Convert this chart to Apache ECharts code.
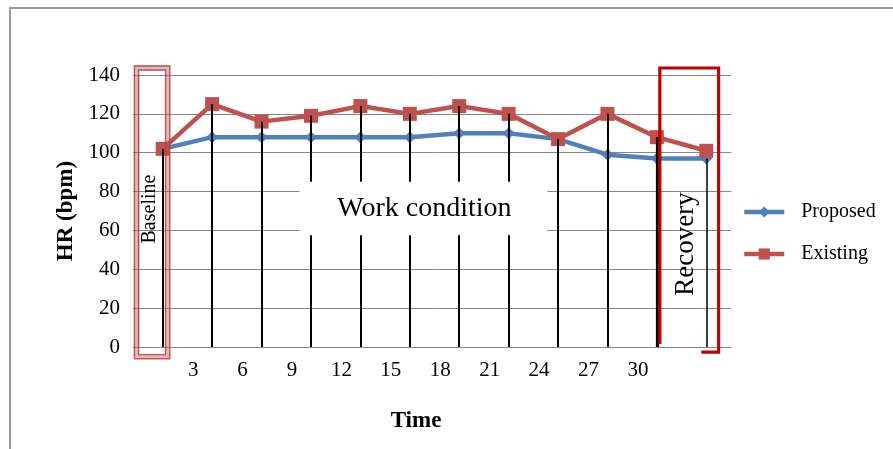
<!DOCTYPE html>
<html><head><meta charset="utf-8">
<script src="https://cdn.jsdelivr.net/npm/echarts@6/dist/echarts.min.js"></script>
<style>html,body{margin:0;padding:0;background:#fff}#c{width:893px;height:449px}</style>
</head><body><div id="c"></div>
<script>
// ---- data ----
const categories = ['Baseline','3','6','9','12','15','18','21','24','27','30','Recovery'];
const proposed = [102,108,108,108,108,108,110,110,107,99,97,97];
const existing = [102,125,116,119,124,120,124,120,107,120,108,101];
const yMin = 0, yMax = 140, yStep = 20;
const seriesNames = ['Proposed','Existing'];

const FONT = '"Liberation Serif", "DejaVu Serif", serif';
const BLUE = '#4f81bd', RED = '#c0504d', GRID = '#878787';

const chart = echarts.init(document.getElementById('c'), null, {renderer:'canvas'});

// vertical guide lines from each reading down to the axis
const guideData = categories.map((c, i) => {
  const top = i === categories.length - 1 ? proposed[i] : existing[i];
  const w = i === 10 ? 3.2 : (i === 11 ? 1.5 : 2);
  return [{coord:[i, top], lineStyle:{color:'#000', width:w, type:'solid'}}, {coord:[i, 0]}];
});

chart.setOption({
  animation:false,
  backgroundColor:'#fff',
  grid:{left:138, right:162, top:75, bottom:102},
  legend:{
    data:seriesNames, orient:'vertical', left:742, top:202, padding:0,
    itemWidth:40, itemHeight:14, itemGap:22,
    lineStyle:{width:4.5},
    textStyle:{fontFamily:FONT, fontSize:20, color:'#000', padding:[0,0,0,12]}
  },
  xAxis:{
    type:'category', data:categories, boundaryGap:true,
    name:'Time', nameLocation:'middle', nameGap:63,
    nameTextStyle:{fontFamily:FONT, fontSize:23, fontWeight:'bold', color:'#000', padding:[0,37,0,0]},
    axisLine:{show:true, lineStyle:{color:GRID, width:1}},
    axisTick:{show:false},
    axisLabel:{
      interval:0, margin:13, fontFamily:FONT, fontSize:21, color:'#000',
      padding:[0,38,0,0],
      formatter:(v, i) => (i === 0 || i === categories.length - 1) ? '' : v
    },
    splitLine:{show:false}
  },
  yAxis:{
    type:'value', min:yMin, max:yMax, interval:yStep,
    name:'HR (bpm)', nameLocation:'middle', nameGap:60, nameRotate:90,
    nameTextStyle:{fontFamily:FONT, fontSize:23, fontWeight:'bold', color:'#000'},
    axisLine:{show:true, lineStyle:{color:GRID, width:1}},
    axisTick:{show:true, length:5, lineStyle:{color:GRID}},
    axisLabel:{margin:18, fontFamily:FONT, fontSize:21, color:'#000'},
    splitLine:{show:true, lineStyle:{color:GRID, width:1}}
  },
  series:[
    {
      name:'guides', type:'line', data:[], z:1, silent:true,
      markLine:{silent:true, symbol:['none','none'], label:{show:false}, animation:false, data:guideData}
    },
    {
      name:'Proposed', type:'line', data:proposed, z:3,
      symbol:'diamond', symbolSize:12,
      lineStyle:{color:BLUE, width:4.5}, itemStyle:{color:BLUE}
    },
    {
      name:'Existing', type:'line', data:existing, z:4,
      symbol:'rect', symbolSize:14,
      lineStyle:{color:RED, width:4.5}, itemStyle:{color:RED}
    }
  ]
});

// ---- annotation boxes positioned through the axes ----
const p0 = chart.convertToPixel({xAxisIndex:0, yAxisIndex:0}, [0, 0]);
const p1 = chart.convertToPixel({xAxisIndex:0, yAxisIndex:0}, [1, 100]);
const px = i => p0[0] + (p1[0] - p0[0]) * i;
const py = v => p0[1] + (p1[1] - p0[1]) * v / 100;

const wcL = px(2.77), wcR = px(7.78), wcT = py(85), wcB = py(57.5);
const bL = px(-0.53), bR = px(0.1), bT = py(143.6), bB = py(-5);
const rL = px(10.06), rR = px(11.25), rT = py(143.6), rB = py(-2.6), rLB = py(1.5), rFoot = px(10.9);

chart.setOption({
  graphic:[
    {type:'rect', z:100, silent:true, shape:{x:10, y:8, width:900, height:460},
     style:{fill:'none', stroke:'#9a9a9a', lineWidth:2}},
    {type:'rect', z:90, silent:true, shape:{x:wcL, y:wcT, width:wcR-wcL, height:wcB-wcT},
     style:{fill:'#fff', stroke:'none'}},
    {type:'text', z:95, silent:true, x:(wcL+wcR)/2 + 1, y:(wcT+wcB)/2,
     style:{text:'Work condition', fontFamily:FONT, fontSize:28, fill:'#000', align:'center', verticalAlign:'middle'}},
    // baseline double box
    {type:'rect', z:95, silent:true, shape:{x:bL, y:bT, width:bR-bL, height:bB-bT},
     style:{fill:'none', stroke:'rgba(192,80,77,0.4)', lineWidth:6}},
    {type:'rect', z:96, silent:true, shape:{x:bL-2, y:bT-2, width:bR-bL+4, height:bB-bT+4},
     style:{fill:'none', stroke:'rgba(170,60,60,0.75)', lineWidth:1.3}},
    {type:'rect', z:96, silent:true, shape:{x:bL+2, y:bT+2, width:bR-bL-4, height:bB-bT-4},
     style:{fill:'none', stroke:'rgba(170,60,60,0.75)', lineWidth:1.3}},
    {type:'text', z:97, silent:true, x:bL + (bR-bL)/2 - 2, y:py(71), rotation:Math.PI/2,
     style:{text:'Baseline', fontFamily:FONT, fontSize:20, fill:'#000', align:'center', verticalAlign:'middle'}},
    // recovery box
    {type:'polyline', z:95, silent:true,
     shape:{points:[[rL, rLB],[rL, rT],[rR, rT],[rR, rB],[rFoot, rB]]},
     style:{fill:'none', stroke:'#c00000', lineWidth:3.2}},
    {type:'text', z:97, silent:true, x:(rL+rR)/2 - 3, y:py(53), rotation:Math.PI/2,
     style:{text:'Recovery', fontFamily:FONT, fontSize:27, fill:'#000', align:'center', verticalAlign:'middle'}}
  ]
});
</script>
</body></html>
